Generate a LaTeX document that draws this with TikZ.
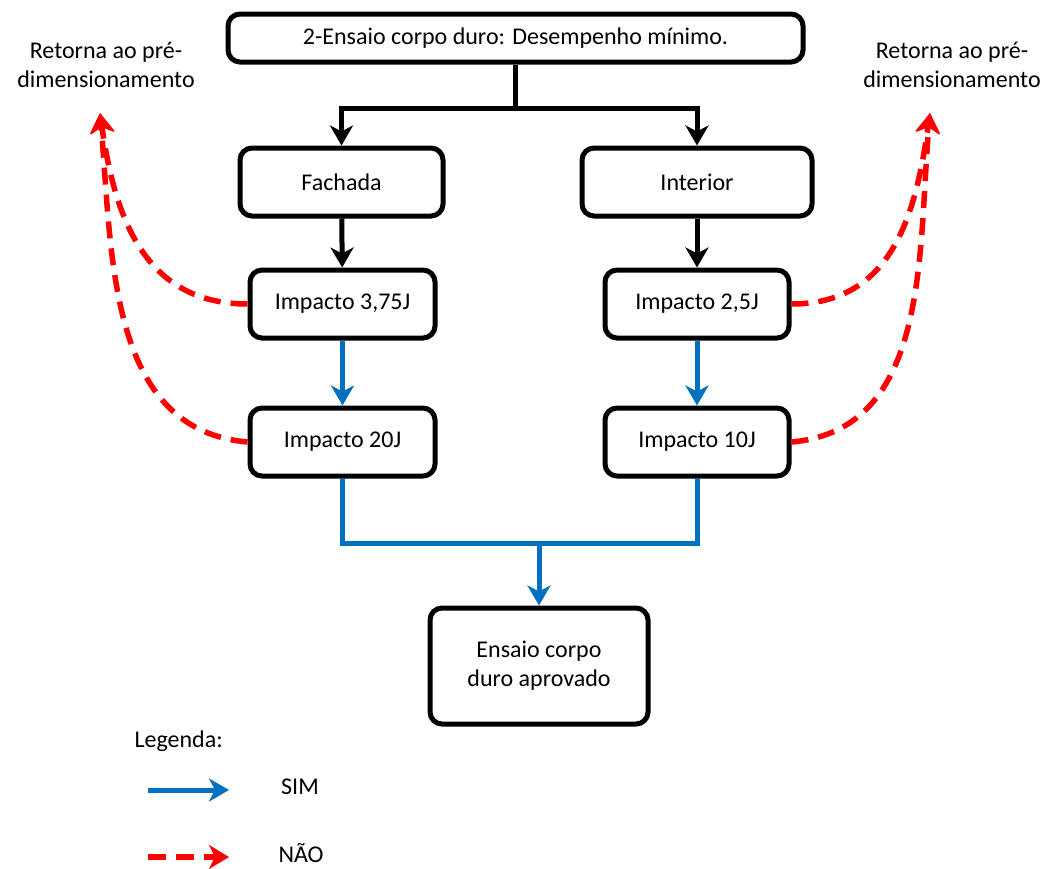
\documentclass[tikz,border=0pt]{standalone}
\usepackage{fontspec}
\setmainfont{Carlito}
\usetikzlibrary{arrows.meta}
\definecolor{simblue}{HTML}{0070C0}
\definecolor{naored}{HTML}{FF0000}
\begin{document}
\begin{tikzpicture}[x=1pt,y=-1pt,
  every node/.style={font=\fontsize{24}{29}\selectfont},
  box/.style={draw=black, line width=5pt, rounded corners=12pt, fill=white,
              align=center, inner sep=0pt},
  blk/.style={draw=black, line width=5pt, -{Stealth[length=20pt,width=23pt,inset=6pt]}},
  blu/.style={draw=simblue, line width=5pt, -{Stealth[length=20pt,width=23pt,inset=6pt]}},
  blul/.style={draw=simblue, line width=5pt},
  red/.style={draw=naored, line width=5.5pt, dash pattern=on 17pt off 10pt,
              -{Stealth[length=20pt,width=24pt,inset=6pt]}},
  lbl/.style={align=center, text=black}
]
\useasboundingbox (0,0) rectangle (1050,868);

% boxes
\node[box, minimum width=575pt, minimum height=48pt] (top) at (515.5,38) {2-Ensaio corpo duro: Desempenho mínimo.};
\node[box, minimum width=203pt, minimum height=68pt] (fach) at (341.5,182) {Fachada};
\node[box, minimum width=230pt, minimum height=68pt] (inte) at (697,182) {Interior};
\node[box, minimum width=185pt, minimum height=68pt] (f1) at (342.5,304) {Impacto 3,75J};
\node[box, minimum width=184pt, minimum height=68pt] (i1) at (697,304) {Impacto 2,5J};
\node[box, minimum width=185pt, minimum height=68pt] (f2) at (342.5,442) {Impacto 20J};
\node[box, minimum width=184pt, minimum height=68pt] (i2) at (697,442) {Impacto 10J};
\node[box, minimum width=218pt, minimum height=116pt] (ok) at (539,666) {Ensaio corpo\\duro aprovado};

% labels
\node[lbl] (retl) at (106,65) {Retorna ao pré-\\dimensionamento};
\node[lbl] (retr) at (952,65) {Retorna ao pré-\\dimensionamento};
\coordinate (tipl) at (100,113);
\coordinate (tipr) at (930,113);

% black split from the top box
\coordinate (split) at (top.south |- 0,108);
\draw[line width=5pt] (top.south) -- (split);
\draw[blk] (split) -| (fach.north);
\draw[blk] (split) -| (inte.north);
\draw[blk] (fach) -- (f1);
\draw[blk] (inte) -- (i1);

% blue: approved paths
\draw[blu] (f1) -- (f2);
\draw[blu] (i1) -- (i2);
\coordinate (join) at (ok.north |- 0,543);
\draw[blul] (f2.south) |- (join) -| (i2.south);
\draw[blu] (join) -- (ok.north);

% red: back to pre-dimensioning
\draw[red] (f1.west) to[out=180,in=-82,looseness=1.1] (tipl);
\draw[red] (f2.west) to[out=175,in=-85,looseness=1.0] (tipl);
\draw[red] (i1.east) to[out=0,in=-98,looseness=1.1] (tipr);
\draw[red] (i2.east) to[out=5,in=-95,looseness=1.0] (tipr);

% legend
\node[anchor=west] (leg) at (131,741) {Legenda:};
\coordinate (sa) at (148,790);
\coordinate (sb) at (229,790);
\draw[blu] (sa) -- (sb);
\node (sim) at (300,787) {SIM};
\coordinate (na) at (148,857);
\coordinate (nb) at (229,857);
\draw[red, dash pattern=on 18pt off 10pt] (na) -- (nb);
\node (nao) at (301,853) {NÃO};
\end{tikzpicture}
\end{document}
